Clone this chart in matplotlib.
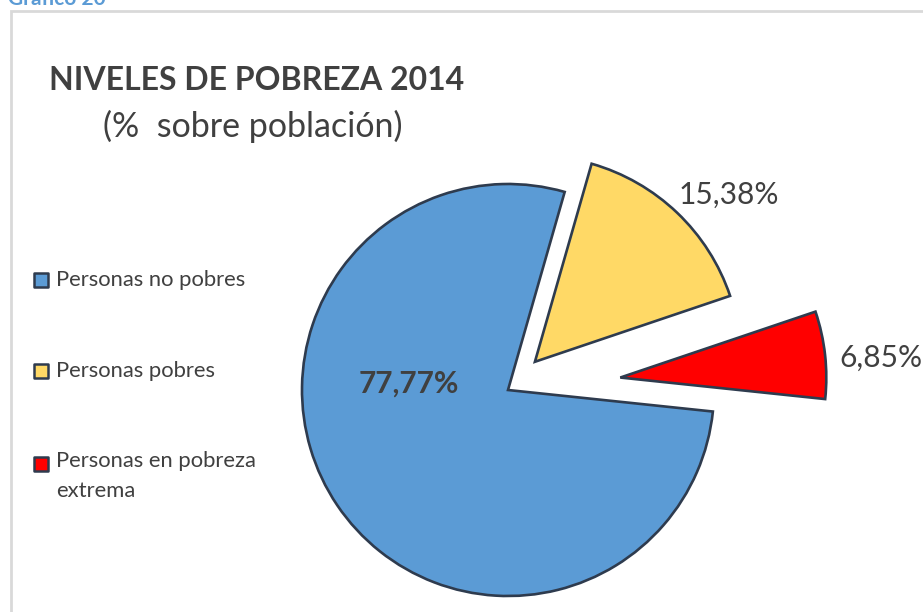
import matplotlib.pyplot as plt
from matplotlib.patches import Rectangle

plt.rcParams['font.family'] = ['Lato', 'DejaVu Sans']

labels = ['Personas no pobres', 'Personas pobres', 'Personas en pobreza\nextrema']
values = [77.77, 15.38, 6.85]
value_text = ['77,77%', '15,38%', '6,85%']
colors = ['#5b9bd5', '#ffd966', '#ff0000']
# explode offsets in data units (pie radius is 206)
explode = [0.0, 39, 113]

TXT = '#404040'
W, H = 923, 612

fig = plt.figure(figsize=(W / 100, H / 100), dpi=100)
ax = fig.add_axes([0, 0, 1, 1])

wedges, _ = ax.pie(values, colors=colors, explode=explode, startangle=-6,
                   counterclock=False, radius=206, center=(508, H - 390),
                   wedgeprops=dict(edgecolor='#2e3b4e', linewidth=1.9))
ax.set_xlim(0, W)
ax.set_ylim(0, H)
ax.set_aspect('equal')
ax.axis('off')

# chart frame
ax.add_patch(Rectangle((11, -20), W, H - 11 + 20, fill=False,
                       edgecolor='#d9d9d9', linewidth=2, clip_on=False))

# header, cut off at the top as in the source page
ax.text(8, H - 5, 'Gráfico 20', color='#5b9bd5', fontsize=15,
        fontweight='bold', va='baseline')

ax.text(49, H - 81, 'NIVELES DE POBREZA 2014', color=TXT, fontsize=23,
        fontweight='bold', va='center')
ax.text(103, H - 126, '(%  sobre población)', color=TXT, fontsize=24.5,
        va='center')

# data labels
ax.text(409, H - 384, value_text[0], color=TXT, fontsize=21.5,
        fontweight='bold', ha='center', va='center')
ax.text(729, H - 195, value_text[1], color=TXT, fontsize=21.5,
        ha='center', va='center')
ax.text(881, H - 358, value_text[2], color=TXT, fontsize=21.5,
        ha='center', va='center')

# legend
leg_y = [280, 371, 464]
for lab, col, y in zip(labels, colors, leg_y):
    ax.scatter(41, H - y, marker='s', s=110, color=col,
               edgecolors='#2e3b4e', linewidths=1.8, clip_on=False)
    if '\n' in lab:
        ax.text(56, H - y + 13, lab, color=TXT, fontsize=15.8, va='top',
                linespacing=1.65)
    else:
        ax.text(56, H - y, lab, color=TXT, fontsize=15.8, va='center')

fig.savefig('out.png', dpi=100)
